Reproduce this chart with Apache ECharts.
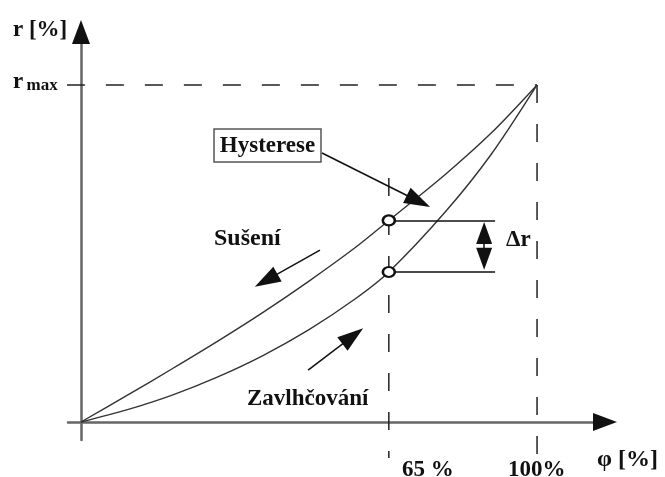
<!DOCTYPE html>
<html>
<head>
<meta charset="utf-8">
<script src="https://cdn.jsdelivr.net/npm/echarts@6/dist/echarts.min.js"></script>
<style>
html, body { margin: 0; background: #fff; }
#chart { width: 665px; height: 477px; }
</style>
</head>
<body>
<div id="chart"></div>
<script>
// sketch units: phi on x (origin 0, 100 % at 100), r on y (r max = 100)
const dryingCurve = [[0, 0], [10, 7.8], [20, 15.8], [30, 24], [40, 32.6], [50, 41.8], [60, 51.6], [67.5, 59.8], [80, 73.6], [90, 85.8], [100, 100]]
const wettingCurve = [[0, 0], [10, 3.6], [20, 8], [30, 13.4], [40, 19.8], [50, 27.4], [60, 36.4], [67.5, 44.5], [80, 62.5], [90, 79.5], [100, 100]]
const phi65 = 67.5      // where the "65 %" line sits in the sketch
const phi100 = 100
const rMax = 100
const hystPoints = [[phi65, 59.8], [phi65, 44.5]]
const deltaREnd = 90.8
const deltaRArrowX = 88.4

const xRange = [-2.85, 114.9]
const yRange = [-5.34, 115.7]

const font = '"Liberation Serif", "DejaVu Serif", serif'
const ink = '#111'

function dashed(points) {
    return {
        type: 'line', data: points, symbol: 'none', clip: false, silent: true,
        lineStyle: { color: '#222', width: 1.5, type: [18, 21] }
    }
}

function curve(points) {
    return {
        type: 'line', data: points, smooth: 0.3, symbol: 'none', silent: true,
        lineStyle: { color: '#333', width: 1.4 }
    }
}

function arrow(from, to, size) {
    return [
        { coord: from, symbol: 'none' },
        { coord: to, symbol: 'triangle', symbolSize: size }
    ]
}

var chartDom = document.getElementById('chart')
var myChart = echarts.init(chartDom)

let options = {
    animation: false,
    grid: { left: 68, right: 60, top: 32, bottom: 37 },
    xAxis: {
        type: 'value', min: xRange[0], max: xRange[1],
        axisLine: { onZero: true, lineStyle: { color: '#666', width: 2.5 } },
        axisTick: { show: false }, axisLabel: { show: false }, splitLine: { show: false }
    },
    yAxis: {
        type: 'value', min: yRange[0], max: yRange[1],
        axisLine: { onZero: true, lineStyle: { color: '#666', width: 2.5 } },
        axisTick: { show: false }, axisLabel: { show: false }, splitLine: { show: false }
    },
    series: [
        dashed([[-3.1, rMax], [phi100, rMax]]),
        dashed([[phi100, rMax], [phi100, -10.7]]),
        dashed([[phi65, 72.4], [phi65, -10.7]]),
        curve(dryingCurve),
        curve(wettingCurve),
        {
            type: 'line', data: [], silent: true,
            markLine: {
                silent: true, animation: false,
                label: { show: false },
                lineStyle: { color: ink, width: 1.5, type: 'solid' },
                symbol: ['none', 'none'],
                data: [
                    [{ coord: hystPoints[0], symbol: 'none' }, { coord: [deltaREnd, hystPoints[0][1]], symbol: 'none' }],
                    [{ coord: hystPoints[1], symbol: 'none' }, { coord: [deltaREnd, hystPoints[1][1]], symbol: 'none' }],
                    [
                        { coord: [deltaRArrowX, 56.1], symbol: 'triangle', symbolSize: [16, 22] },
                        { coord: [deltaRArrowX, 48.4], symbol: 'triangle', symbolSize: [16, 22] }
                    ],
                    arrow([52.85, 79.8], [74.0, 65.5], [17, 26]),
                    arrow([52.4, 51.0], [40.6, 42.0], [17, 26]),
                    arrow([49.8, 15.4], [59.6, 25.5], [17, 26])
                ],
                itemStyle: { color: ink }
            }
        },
        {
            type: 'scatter', data: hystPoints, symbol: 'circle', symbolSize: [12, 10], silent: true,
            itemStyle: { color: '#fff', borderColor: ink, borderWidth: 2.4, opacity: 1 }, z: 5
        },
        {
            // axis arrow heads
            type: 'scatter', clip: false, silent: true, symbol: 'triangle', z: 6,
            data: [
                { value: [0, yRange[1]], symbolSize: [18, 24], symbolRotate: 0 },
                { value: [xRange[1], 0], symbolSize: [18, 24], symbolRotate: -90 }
            ],
            itemStyle: { color: ink, opacity: 1 }
        }
    ],
    graphic: [
        { type: 'text', x: 13, y: 30, style: { text: 'r [%]', font: 'bold 23px ' + font, fill: ink, verticalAlign: 'middle' } },
        {
            type: 'text', x: 13, y: 82,
            style: {
                text: '{r|r} {m|max}', fill: ink, verticalAlign: 'middle',
                rich: {
                    r: { font: 'bold 23px ' + font, fill: ink },
                    m: { font: 'bold 17px ' + font, fill: ink, padding: [8, 0, 0, 0] }
                }
            }
        },
        { type: 'text', x: 597, y: 460, style: { text: 'φ [%]', font: 'bold 24px ' + font, fill: ink, verticalAlign: 'middle' } },
        { type: 'text', x: 402, y: 470, style: { text: '65 %', font: 'bold 23px ' + font, fill: ink, verticalAlign: 'middle' } },
        { type: 'text', x: 508, y: 470, style: { text: '100%', font: 'bold 23px ' + font, fill: ink, verticalAlign: 'middle' } },
        { type: 'text', x: 214, y: 239, style: { text: 'Sušení', font: 'bold 24px ' + font, fill: ink, verticalAlign: 'middle' } },
        { type: 'text', x: 247, y: 399, style: { text: 'Zavlhčování', font: 'bold 23px ' + font, fill: ink, verticalAlign: 'middle' } },
        { type: 'text', x: 506, y: 240, style: { text: 'Δr', font: 'bold 23px ' + font, fill: ink, verticalAlign: 'middle' } },
        { type: 'rect', shape: { x: 214, y: 129, width: 107, height: 33 }, style: { fill: '#fff', stroke: '#555', lineWidth: 1.5 } },
        { type: 'text', x: 267.5, y: 146, style: { text: 'Hysterese', font: 'bold 23px ' + font, fill: ink, align: 'center', verticalAlign: 'middle' } }
    ]
}
myChart.setOption(options)
</script>
</body>
</html>
